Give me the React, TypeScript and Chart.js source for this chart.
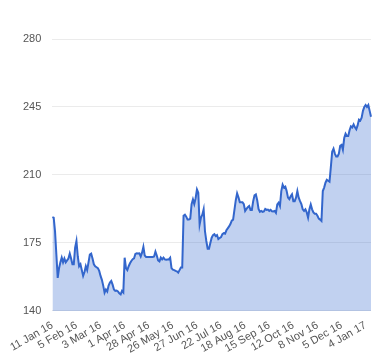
import React, { useEffect, useRef } from "react";
import { Chart, registerables } from "chart.js";

Chart.register(...registerables);

const tickLabels = [
  "11 Jan 16", "5 Feb 16", "3 Mar 16", "1 Apr 16", "28 Apr 16", "26 May 16",
  "27 Jun 16", "22 Jul 16", "18 Aug 16", "15 Sep 16", "12 Oct 16", "8 Nov 16",
  "5 Dec 16", "4 Jan 17",
];
const labelEvery = 18;

const prices = [
  188.3, 188, 181, 169, 157, 162, 165, 167.4, 165, 167, 165, 166, 167, 169.5, 167, 164, 164, 172.6,
  176, 168, 163, 164, 161, 158, 160, 163, 161, 165, 169, 169.5, 167, 164, 163, 162.5, 162, 160.6,
  158, 156, 153, 149.4, 151, 150, 153, 154.6, 155.4, 153.5, 151, 150.3, 150.5, 150, 149, 148.5, 150.3, 149.5,
  167.4, 162, 161, 163, 164.5, 165.7, 166.6, 167, 169.3, 169.6, 169.5, 169.6, 168, 170, 173, 168.5, 167.8, 167.8,
  167.8, 167.8, 167.8, 167.8, 168, 170.5, 168.5, 166, 165.5, 167.4, 166.5, 167.4, 166.5, 166.3, 166.5, 166.5, 167.4, 162,
  161.2, 161, 160.6, 160.4, 159.7, 161, 162.3, 162.3, 189, 189.5, 188.5, 187, 187, 187.5, 195, 197.4, 195, 198,
  202.5, 200.8, 184.5, 188, 189.5, 192.3, 181, 176, 172, 172, 175, 177.7, 179, 179.5, 178.5, 179, 177, 177.5,
  178, 179.5, 180, 179.7, 181.5, 182.5, 183.5, 184.7, 186.5, 187, 192, 197, 200.5, 198.5, 196, 196, 196, 195,
  191.5, 192.5, 193.4, 194, 192, 192, 196.5, 199.5, 200, 197, 192.5, 191, 191.5, 191, 191.2, 192.5, 192, 192.2,
  191.5, 192, 191.3, 191.2, 191.5, 190.5, 194.8, 195.7, 194, 201.7, 205, 203.5, 204, 201.7, 198.3, 197.5, 199, 200,
  196.5, 196.5, 198.3, 201.7, 198.3, 196.5, 195, 192.3, 191.5, 192.3, 190.7, 188, 192.3, 194.8, 192.3, 190.7, 190, 190,
  189, 187.5, 187, 186.3, 201.7, 203.5, 206, 207.5, 207, 206.5, 214, 222, 223.5, 221, 219.5, 219.5, 221, 225,
  225.5, 223, 229, 231.2, 230, 230, 233, 235, 234.5, 236, 234.5, 233.5, 235.5, 238.5, 238, 239.5, 243, 245,
  246, 245, 246, 243, 240,
];

const yMin = 140;
const yMax = 280;
const yStep = 35;

export default function App() {
  const ref = useRef<HTMLCanvasElement | null>(null);

  useEffect(() => {
    if (!ref.current) return;
    const labels = prices.map((_, i) => String(i));
    const font = { family: "Arial, 'Liberation Sans', sans-serif", size: 11 };
    const chart = new Chart(ref.current, {
      type: "line",
      data: {
        labels,
        datasets: [
          {
            data: prices,
            borderColor: "#3366cc",
            backgroundColor: "rgba(51,102,204,0.3)",
            borderWidth: 2,
            pointRadius: 0,
            tension: 0,
            fill: "start",
          },
        ],
      },
      options: {
        animation: false,
        responsive: true,
        maintainAspectRatio: false,
        layout: { padding: { left: 12, right: 9, top: 39, bottom: 4 } },
        plugins: { legend: { display: false }, tooltip: { enabled: false } },
        scales: {
          x: {
            grid: { display: false },
            border: { display: false },
            ticks: {
              autoSkip: false,
              minRotation: 30,
              maxRotation: 30,
              padding: 0,
              color: "#555",
              font,
              callback: (_v: any, i: number) =>
                i % labelEvery === 0 ? tickLabels[i / labelEvery] : null,
            },
          },
          y: {
            min: yMin,
            max: yMax,
            border: { display: false },
            grid: { color: "#ebebeb", drawTicks: false },
            ticks: {
              stepSize: yStep,
              padding: 11,
              color: "#555",
              font,
            },
          },
        },
      },
    });
    return () => chart.destroy();
  }, []);

  return (
    <div style={{ position: "fixed", left: 0, top: 0, width: 380, height: 360, background: "#fff" }}>
      <canvas ref={ref} />
    </div>
  );
}
